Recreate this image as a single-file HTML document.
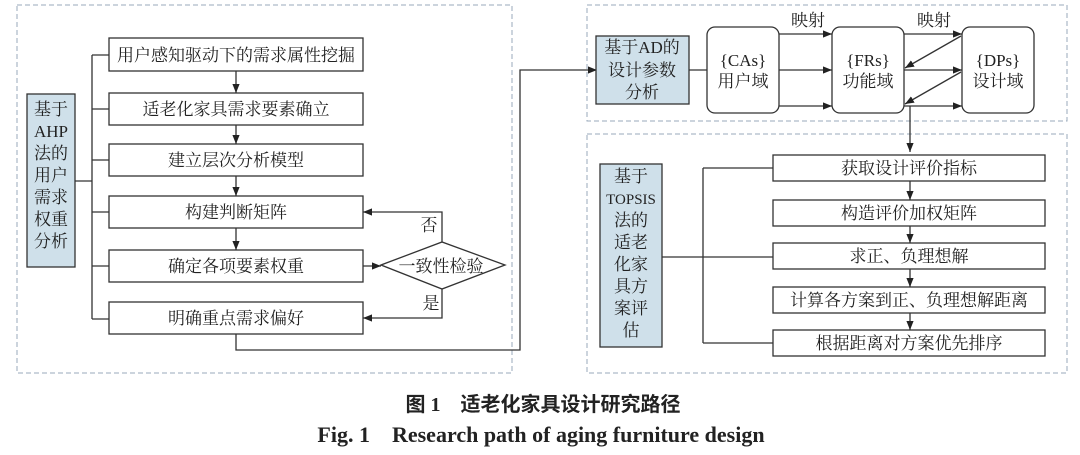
<!DOCTYPE html>
<html><head><meta charset="utf-8"><style>
html,body{margin:0;padding:0;background:#fff;width:1080px;height:455px;overflow:hidden}
svg{display:block}
text{font-family:"Liberation Serif","Noto Serif CJK SC",serif;fill:#222}
</style></head><body>
<svg width="1080" height="455" viewBox="0 0 1080 455" xmlns="http://www.w3.org/2000/svg">
<defs><marker id="a" viewBox="0 0 10 10" refX="10" refY="5" markerWidth="9" markerHeight="9" orient="auto" markerUnits="userSpaceOnUse"><path d="M0,1 L10,5 L0,9 z" fill="#222"/></marker></defs>
<g fill="none" stroke="#9ab" stroke-width="1" stroke-dasharray="5,3">
<rect x="17" y="5" width="495" height="368"/>
<rect x="587" y="5" width="480" height="116"/>
<rect x="587" y="134" width="480" height="239"/>
</g>
<g stroke="#333" stroke-width="1.3" fill="none">
<rect x="27" y="94" width="48" height="173" fill="#cfe0ea"/>
<path d="M75 181 H92 M92 55 V319 M92 55 H109 M92 109 H109 M92 160 H109 M92 212 H109 M92 266 H109 M92 319 H109"/>
<rect x="109" y="38" width="254" height="33" fill="#fff"/>
<rect x="109" y="93" width="254" height="32" fill="#fff"/>
<rect x="109" y="144" width="254" height="32" fill="#fff"/>
<rect x="109" y="196" width="254" height="32" fill="#fff"/>
<rect x="109" y="250" width="254" height="32" fill="#fff"/>
<rect x="109" y="302" width="254" height="32" fill="#fff"/>
<path d="M236 71 V93" marker-end="url(#a)"/>
<path d="M236 125 V144" marker-end="url(#a)"/>
<path d="M236 176 V196" marker-end="url(#a)"/>
<path d="M236 228 V250" marker-end="url(#a)"/>
<polygon points="381,265 442,242 505,265 442,289" fill="#fff"/>
<path d="M363 266 H381" marker-end="url(#a)"/>
<path d="M442 242 V212 H363" marker-end="url(#a)"/>
<path d="M442 289 V318 H363" marker-end="url(#a)"/>
<path d="M236 334 V350 H520 V70 H597" marker-end="url(#a)"/>
<rect x="596" y="36" width="93" height="68" fill="#cfe0ea"/>
<path d="M689 70 H707"/>
<rect x="707" y="27" width="72" height="86" rx="8" fill="#fff"/>
<rect x="832" y="27" width="72" height="86" rx="8" fill="#fff"/>
<rect x="962" y="27" width="72" height="86" rx="8" fill="#fff"/>
<path d="M779 34 H832" marker-end="url(#a)"/>
<path d="M779 70 H832" marker-end="url(#a)"/>
<path d="M779 106 H832" marker-end="url(#a)"/>
<path d="M904 34 H962" marker-end="url(#a)"/>
<path d="M904 70 H962" marker-end="url(#a)"/>
<path d="M904 106 H962" marker-end="url(#a)"/>
<path d="M961 36 L905 68" marker-end="url(#a)"/>
<path d="M961 72 L905 104" marker-end="url(#a)"/>
<path d="M910 106 V152" marker-end="url(#a)"/>
<rect x="600" y="164" width="62" height="183" fill="#cfe0ea"/>
<path d="M662 257 H773 M703 168 V343 M703 168 H773 M703 343 H773"/>
<rect x="773" y="155" width="272" height="26" fill="#fff"/>
<rect x="773" y="200" width="272" height="26" fill="#fff"/>
<rect x="773" y="243" width="272" height="26" fill="#fff"/>
<rect x="773" y="287" width="272" height="26" fill="#fff"/>
<rect x="773" y="330" width="272" height="26" fill="#fff"/>
<path d="M910 181 V200" marker-end="url(#a)"/>
<path d="M910 226 V243" marker-end="url(#a)"/>
<path d="M910 269 V287" marker-end="url(#a)"/>
<path d="M910 313 V330" marker-end="url(#a)"/>
</g>
<g font-size="17" text-anchor="middle">
<text x="236" y="61">用户感知驱动下的需求属性挖掘</text>
<text x="236" y="115">适老化家具需求要素确立</text>
<text x="236" y="166">建立层次分析模型</text>
<text x="236" y="218">构建判断矩阵</text>
<text x="236" y="272">确定各项要素权重</text>
<text x="236" y="324">明确重点需求偏好</text>
<text x="441" y="272">一致性检验</text>
<text x="429" y="231">否</text>
<text x="431" y="309">是</text>
<text x="51" y="115">基于</text><text x="51" y="137">AHP</text><text x="51" y="159">法的</text><text x="51" y="181">用户</text><text x="51" y="203">需求</text><text x="51" y="225">权重</text><text x="51" y="247">分析</text>
<text x="642" y="53">基于AD的</text><text x="642" y="76">设计参数</text><text x="642" y="98">分析</text>
<text x="743" y="66">{CAs}</text><text x="743" y="87">用户域</text>
<text x="868" y="66">{FRs}</text><text x="868" y="87">功能域</text>
<text x="998" y="66">{DPs}</text><text x="998" y="87">设计域</text>
<text x="808" y="26">映射</text><text x="934" y="26">映射</text>
<text x="631" y="182">基于</text><text x="631" y="204" font-size="15">TOPSIS</text><text x="631" y="226">法的</text><text x="631" y="248">适老</text><text x="631" y="270">化家</text><text x="631" y="292">具方</text><text x="631" y="314">案评</text><text x="631" y="336">估</text>
<text x="909" y="174">获取设计评价指标</text>
<text x="909" y="219">构造评价加权矩阵</text>
<text x="909" y="262">求正、负理想解</text>
<text x="909" y="306">计算各方案到正、负理想解距离</text>
<text x="909" y="349">根据距离对方案优先排序</text>
</g>
<text x="543" y="411" font-size="20" font-weight="bold" text-anchor="middle" style="font-family:'Liberation Serif','Noto Sans CJK SC',sans-serif">图 1　适老化家具设计研究路径</text>
<text x="541" y="442" font-size="22" font-weight="bold" text-anchor="middle">Fig. 1　Research path of aging furniture design</text>
</svg>
</body></html>
